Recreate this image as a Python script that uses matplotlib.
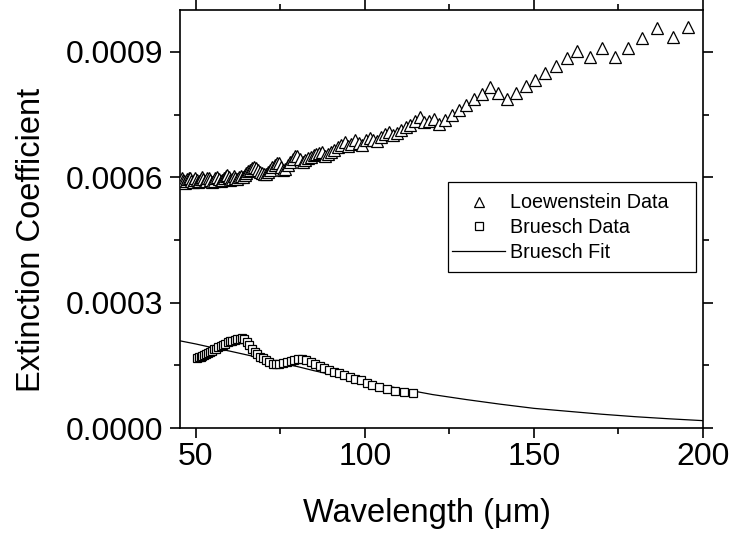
import matplotlib
matplotlib.use("Agg")
import matplotlib.pyplot as plt
from matplotlib.ticker import MultipleLocator, FormatStrFormatter
from matplotlib.lines import Line2D
from matplotlib.patches import Rectangle

plt.rcParams['font.family'] = ['Liberation Sans', 'DejaVu Sans']

# Loewenstein data (wavelength um, extinction coefficient)
loew_x = [45.8, 46.1, 46.4, 46.8, 47.1, 47.5, 47.9, 48.2, 48.6, 49.0, 49.4, 49.8,
          50.2, 50.6, 51.0, 51.4, 51.8, 52.2, 52.6, 53.0, 53.4, 53.8, 54.3, 54.8,
          55.3, 55.8, 56.3, 56.8, 57.3, 57.8, 58.3, 58.8, 59.2, 59.7, 60.2, 60.7,
          61.2, 61.7, 62.2, 62.7, 63.3, 63.8, 64.4, 64.9, 65.5, 66.0, 66.6, 67.2,
          67.8, 68.4, 69.0, 69.6, 70.2, 70.8, 71.4, 72.0, 72.6, 73.3, 73.9, 74.5,
          75.1, 75.8, 76.5, 77.2, 77.9, 78.6, 79.3,
          80.0, 80.8, 81.6, 82.4, 83.2, 84.0, 84.8, 85.6, 86.5, 87.4, 88.3, 89.2,
          90.1, 91.0, 92.0, 93.0, 94.0, 95.0, 96.0, 97.1, 98.2, 99.2, 100.3, 101.4,
          102.5, 103.6, 104.7, 105.9, 107.1, 108.3, 109.5, 110.8, 112.1, 113.4,
          114.8, 116.2, 117.6, 119.0, 120.4, 121.9, 123.7, 125.8, 127.9, 130.0,
          132.3, 134.6, 137.0, 139.4, 142.0, 144.7, 147.6, 150.3, 153.3, 156.5,
          159.8, 162.7, 166.6, 170.1, 174.0, 177.9, 182.0, 186.4, 191.1, 195.6]
loew_y = [0.000598, 0.000594, 0.000590, 0.000587, 0.000591, 0.000596, 0.000599, 0.000598,
          0.000592, 0.000588, 0.000593, 0.000599, 0.000594, 0.000589, 0.000591, 0.000596,
          0.000600, 0.000595, 0.000590, 0.000592, 0.000597, 0.000599, 0.000593, 0.000589,
          0.000591, 0.000597, 0.000601, 0.000596, 0.000591, 0.000594, 0.000599, 0.000604,
          0.000606, 0.000600, 0.000594, 0.000596, 0.000602, 0.000599, 0.000596, 0.000600,
          0.000604, 0.000601, 0.000605, 0.000610, 0.000615, 0.000617, 0.000621, 0.000624,
          0.000623, 0.000617, 0.000612, 0.000610, 0.000608, 0.000607, 0.000612, 0.000618,
          0.000624, 0.000630, 0.000634, 0.000633, 0.000625, 0.000617, 0.000619, 0.000628,
          0.000636, 0.000644, 0.000650,
          0.000650, 0.000643, 0.000636, 0.000640, 0.000645, 0.000649, 0.000652, 0.000655,
          0.000658, 0.000661, 0.000651, 0.000655, 0.000660, 0.000666, 0.000672, 0.000678,
          0.000684, 0.000674, 0.000680, 0.000689, 0.000682, 0.000678, 0.000688, 0.000694,
          0.000688, 0.000686, 0.000697, 0.000703, 0.000708, 0.000700, 0.000705, 0.000712,
          0.000719, 0.000725, 0.000735, 0.000743, 0.000733, 0.000735, 0.000740, 0.000727,
          0.000736, 0.000748, 0.000760, 0.000772, 0.000786, 0.000800, 0.000816, 0.000802,
          0.000788, 0.000802, 0.000818, 0.000833, 0.000850, 0.000867, 0.000886, 0.000903,
          0.000888, 0.000908, 0.000888, 0.000910, 0.000932, 0.000956, 0.000936, 0.000960]

# Bruesch data
brue_x = [50.4, 50.9, 51.4, 51.9, 52.4, 53.0, 53.6, 54.2, 54.8, 55.4, 56.0, 56.6,
          57.3, 58.0, 58.7, 59.4, 60.1, 60.8, 61.5, 62.2, 62.9, 63.6, 64.3, 65.0,
          65.8, 66.6, 67.4, 68.2, 69.0, 69.9, 70.8, 71.7, 72.7, 73.7, 74.7, 75.8,
          76.9, 78.0, 79.1, 80.3, 81.5, 82.7, 84.0, 85.3, 86.6, 88.0, 89.4, 90.9,
          92.4, 93.9, 95.5, 97.1, 98.8, 100.5, 102.2, 104.2, 106.5, 109.0, 111.5, 114.2]
brue_y = [0.000167, 0.000169, 0.000171, 0.000173, 0.000175, 0.000177, 0.000180, 0.000182,
          0.000185, 0.000188, 0.000190, 0.000193, 0.000196, 0.000199, 0.000202, 0.000205,
          0.000207, 0.000209, 0.000211, 0.000213, 0.000214, 0.000215, 0.000212, 0.000206,
          0.000198, 0.000190, 0.000183, 0.000176, 0.000171, 0.000167, 0.000162, 0.000157,
          0.000154, 0.000153, 0.000153, 0.000155, 0.000158, 0.000161, 0.000163, 0.000164,
          0.000165, 0.000163, 0.000158, 0.000153, 0.000149, 0.000144, 0.000139, 0.000135,
          0.000131, 0.000127, 0.000122, 0.000118, 0.000114, 0.000108, 0.000102, 0.000098,
          0.000094, 0.000089, 0.000085, 0.000083]

# Bruesch fit
fit_x = [45, 50, 55, 60, 65, 70, 75, 80, 85, 90, 95, 100, 110, 120, 130, 140, 150,
         160, 170, 180, 190, 200]
fit_y = [0.000209, 0.000201, 0.000192, 0.000184, 0.000175, 0.000166, 0.000156, 0.000147,
         0.000137, 0.000128, 0.000119, 0.000110, 0.000095, 0.000080, 0.000068, 0.000057,
         0.000047, 0.000040, 0.000033, 0.000027, 0.000022, 0.0000176]

xticks = [50, 100, 150, 200]
yticks = [0.0, 0.0003, 0.0006, 0.0009]
labels = ['Loewenstein Data', 'Bruesch Data', 'Bruesch Fit']

W, H = 731, 537
fig = plt.figure(figsize=(W / 100, H / 100), dpi=100)
ax = fig.add_axes([180 / W, 1 - 428 / H, (703 - 180) / W, (428 - 10) / H])

ax.plot(fit_x, fit_y, color='black', lw=0.9, zorder=2)
ax.plot(brue_x, brue_y, ls='none', marker='s', ms=5.6, mfc='white', mec='black',
        mew=0.9, zorder=3)
ax.plot(loew_x, loew_y, ls='none', marker='^', ms=8.0, mfc='white', mec='black',
        mew=0.9, zorder=4)

ax.set_xlim(45.3, 200)
ax.set_ylim(0, 0.001)
ax.set_xticks(xticks)
ax.set_yticks(yticks)
ax.xaxis.set_minor_locator(MultipleLocator(25))
ax.yaxis.set_minor_locator(MultipleLocator(0.00015))
ax.yaxis.set_major_formatter(FormatStrFormatter('%.4f'))
ax.tick_params(which='both', direction='out', top=True, right=True,
               width=1.2, labelsize=23, color='black')
ax.tick_params(which='major', length=7)
ax.tick_params(which='minor', length=4)
ax.tick_params(axis='y', pad=5)
ax.tick_params(axis='x', pad=3)
for s in ax.spines.values():
    s.set_linewidth(1.2)

fig.text(427 / W, 1 - 522 / H, 'Wavelength (μm)', fontsize=23.5,
         ha='center', va='baseline')
fig.text(32 / W, 1 - 240 / H, 'Extinction Coefficient', fontsize=23.5,
         rotation=90, ha='center', va='center')

# legend frame
fig.add_artist(Rectangle((448 / W, 1 - 272 / H), (696 - 448) / W, (272 - 182) / H,
                         transform=fig.transFigure, fill=True, facecolor='white',
                         edgecolor='black', lw=0.9, zorder=5))
handles = [
    Line2D([], [], ls='none', marker='^', ms=7, mfc='white', mec='black', mew=0.9),
    Line2D([], [], ls='none', marker='s', ms=5.5, mfc='white', mec='black', mew=0.9),
    Line2D([], [], color='black', lw=0.9),
]
fs = 14.2
leg = fig.legend(handles, labels, loc='upper left',
                 bbox_to_anchor=(452 / W, 1 - 193.5 / H),
                 fontsize=fs, frameon=False, borderpad=0, borderaxespad=0,
                 labelspacing=0.28, handlelength=53 / (fs * 100 / 72),
                 handletextpad=5 / (fs * 100 / 72))
leg.set_zorder(6)

fig.savefig('out.png', dpi=100)
